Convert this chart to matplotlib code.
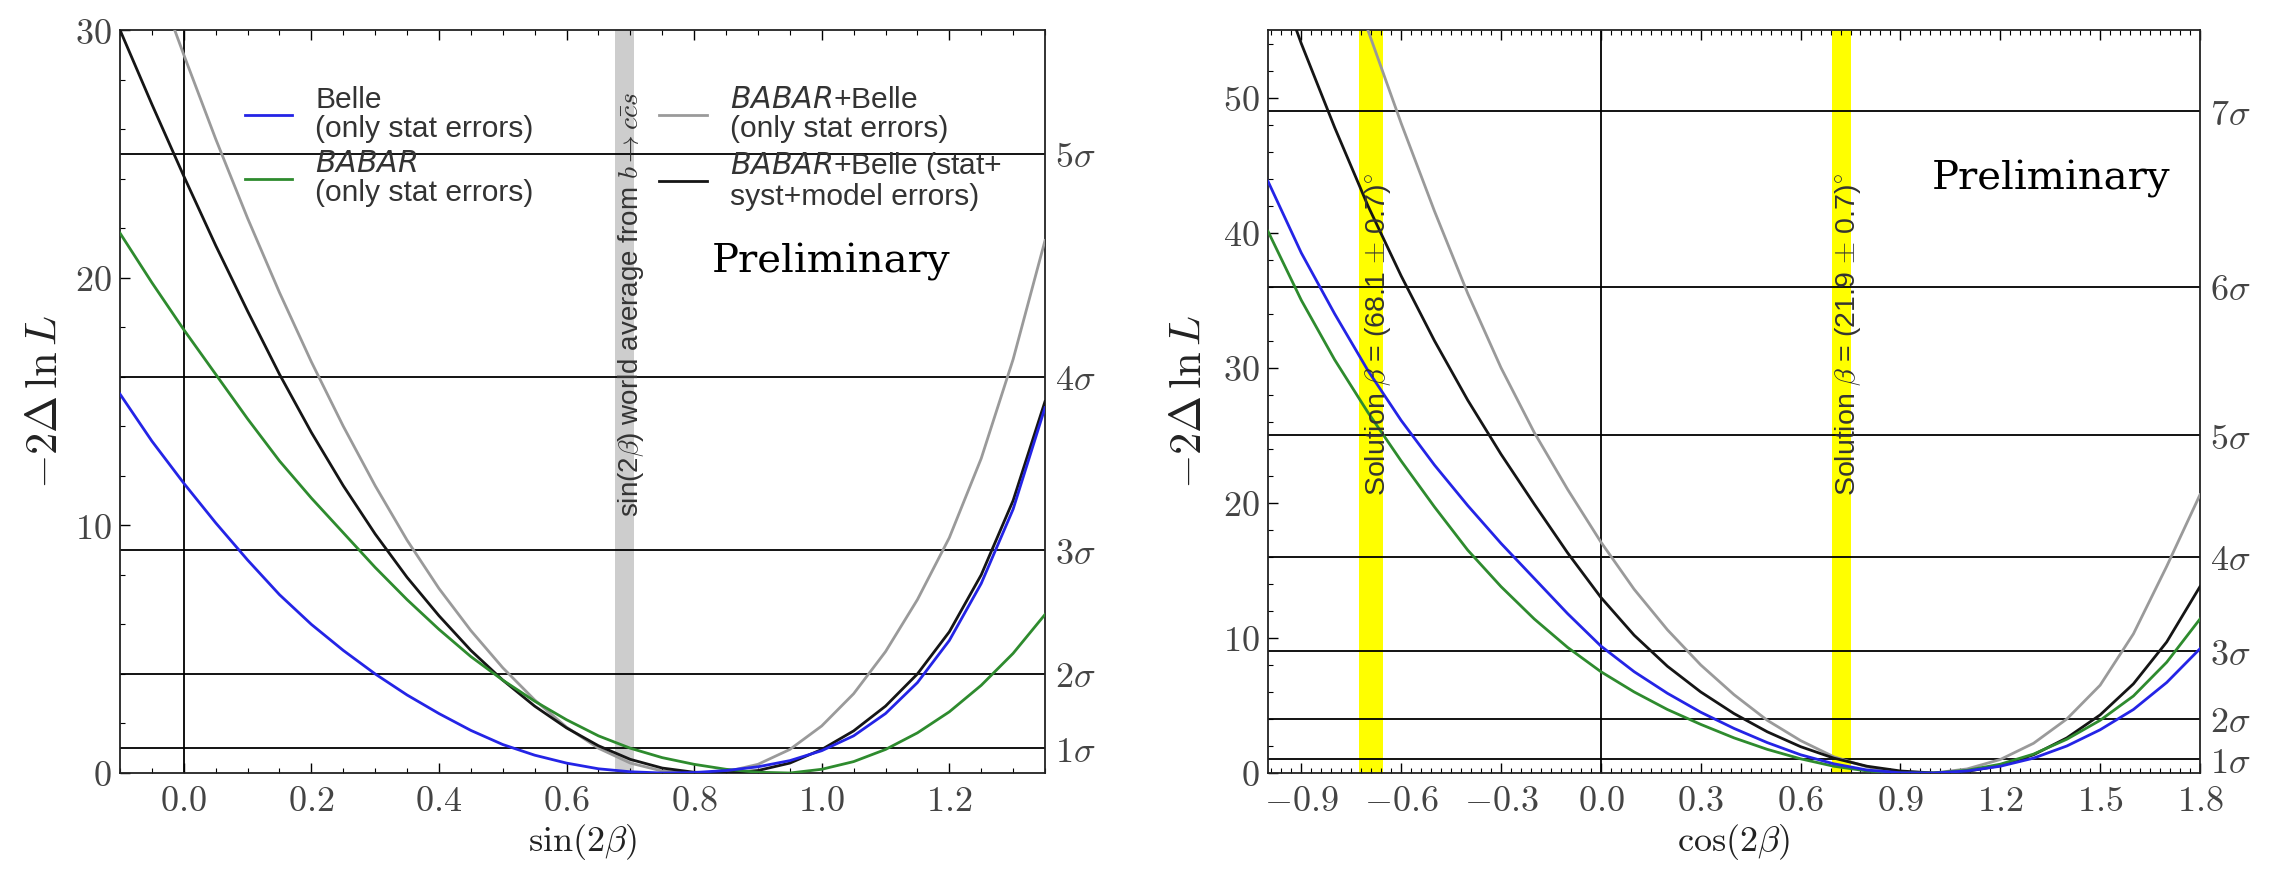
import matplotlib
matplotlib.use('Agg')
import matplotlib.pyplot as plt
from matplotlib.font_manager import FontProperties

plt.rcParams['mathtext.fontset'] = 'cm'
plt.rcParams['font.family'] = ['Liberation Sans', 'DejaVu Sans']

# ---------------- data: left panel, sin(2beta) ----------------
sin_x = [-0.10, -0.05, 0.00, 0.05, 0.10, 0.15, 0.20, 0.25, 0.30, 0.35,
         0.40, 0.45, 0.50, 0.55, 0.60, 0.65, 0.70, 0.75, 0.80, 0.85,
         0.90, 0.95, 1.00, 1.05, 1.10, 1.15, 1.20, 1.25, 1.30, 1.35]
belle_sin = [15.3, 13.4, 11.7, 10.1, 8.6, 7.2, 6.0, 4.95, 4.0, 3.15,
             2.4, 1.72, 1.15, 0.72, 0.4, 0.17, 0.05, 0.0, 0.02, 0.1,
             0.25, 0.5, 0.9, 1.5, 2.4, 3.65, 5.35, 7.65, 10.65, 14.75]
babar_sin = [21.8, 19.8, 17.9, 16.1, 14.3, 12.6, 11.1, 9.7, 8.3, 7.0,
             5.8, 4.7, 3.75, 2.9, 2.15, 1.5, 1.0, 0.62, 0.35, 0.15,
             0.03, 0.0, 0.15, 0.46, 0.95, 1.62, 2.47, 3.54, 4.83, 6.4]
comb_stat_sin = [36.1, 32.5, 29.0, 25.6, 22.4, 19.4, 16.6, 14.0, 11.6, 9.4,
                 7.45, 5.75, 4.25, 2.95, 1.85, 1.0, 0.4, 0.08, 0.0, 0.05,
                 0.35, 0.95, 1.9, 3.2, 4.9, 7.0, 9.5, 12.7, 16.7, 21.5]
comb_full_sin = [30.0, 27.0, 24.1, 21.3, 18.65, 16.1, 13.75, 11.6, 9.65, 7.9,
                 6.35, 4.95, 3.75, 2.7, 1.82, 1.1, 0.55, 0.2, 0.03, 0.0,
                 0.1, 0.4, 0.95, 1.7, 2.7, 4.0, 5.7, 8.0, 11.0, 15.0]
world_avg_sin2b = [0.676, 0.706]          # grey band edges

# ---------------- data: right panel, cos(2beta) ----------------
cos_x = [-1.0, -0.9, -0.8, -0.7, -0.6, -0.5, -0.4, -0.3, -0.2, -0.1,
         0.0, 0.1, 0.2, 0.3, 0.4, 0.5, 0.6, 0.7, 0.8, 0.9,
         1.0, 1.1, 1.2, 1.3, 1.4, 1.5, 1.6, 1.7, 1.8]
belle_cos = [43.8, 38.5, 34.0, 29.8, 26.1, 22.8, 19.8, 17.0, 14.4, 11.8,
             9.4, 7.5, 5.9, 4.5, 3.3, 2.25, 1.35, 0.68, 0.22, 0.02,
             0.0, 0.15, 0.5, 1.1, 2.0, 3.2, 4.7, 6.7, 9.2]
babar_cos = [40.1, 35.0, 30.6, 26.7, 23.1, 19.7, 16.5, 13.8, 11.4, 9.3,
             7.5, 6.0, 4.7, 3.6, 2.6, 1.75, 1.05, 0.5, 0.15, 0.0,
             0.0, 0.2, 0.65, 1.4, 2.5, 3.9, 5.7, 8.2, 11.4]
comb_stat_cos = [78.0, 69.5, 62.0, 55.0, 48.1, 41.6, 35.5, 30.0, 25.2, 21.0,
                 17.1, 13.6, 10.6, 8.0, 5.8, 3.9, 2.4, 1.2, 0.45, 0.05,
                 0.0, 0.3, 1.0, 2.2, 4.0, 6.5, 10.3, 15.3, 20.6]
comb_full_cos = [60.8, 54.0, 47.8, 42.0, 36.8, 32.0, 27.6, 23.6, 19.9, 16.3,
                 13.0, 10.2, 7.9, 6.0, 4.4, 3.05, 1.95, 1.1, 0.5, 0.15,
                 0.0, 0.12, 0.55, 1.35, 2.6, 4.3, 6.6, 9.7, 13.8]
solution_bands = [(-0.727, -0.655), (0.693, 0.753)]
solution_labels = [r'Solution $\beta$ = (68.1 $\pm$ 0.7)$^{\circ}$',
                   r'Solution $\beta$ = (21.9 $\pm$ 0.7)$^{\circ}$']

# ---------------- ticks / labels ----------------
sin_xticks = [0.0, 0.2, 0.4, 0.6, 0.8, 1.0, 1.2]
sin_xticklabels = ['0.0', '0.2', '0.4', '0.6', '0.8', '1.0', '1.2']
sin_yticks = [0, 10, 20, 30]
sin_yticklabels = ['0', '10', '20', '30']
cos_xticks = [-0.9, -0.6, -0.3, 0.0, 0.3, 0.6, 0.9, 1.2, 1.5, 1.8]
cos_xticklabels = ['-0.9', '-0.6', '-0.3', '0.0', '0.3', '0.6', '0.9', '1.2', '1.5', '1.8']
cos_yticks = [0, 10, 20, 30, 40, 50]
cos_yticklabels = ['0', '10', '20', '30', '40', '50']
sigma_levels_sin = [1, 4, 9, 16, 25]
sigma_levels_cos = [1, 4, 9, 16, 25, 36, 49]
sigma_names = ['1', '2', '3', '4', '5', '6', '7']

legend_labels = ['Belle\n(only stat errors)',
                 r'$\mathit{BABAR}$' + '\n(only stat errors)',
                 r'$\mathit{BABAR}$' + '+Belle\n(only stat errors)',
                 r'$\mathit{BABAR}$' + '+Belle (stat+\nsyst+model errors)']

C_BLUE = '#2424e6'
C_GREEN = '#2e8b2e'
C_GRAY = '#9a9a9a'
C_BLACK = '#151515'
TICK_COLOR = '#444444'
TXT = '#333333'

W, H = 2273, 882
fig = plt.figure(figsize=(W / 100, H / 100), dpi=100)
axL = fig.add_axes([120 / W, (H - 773) / H, 925 / W, 743 / H])
axR = fig.add_axes([1268 / W, (H - 773) / H, 932 / W, 743 / H])


def style(ax, xticks, xlabels, yticks, ylabels, xminor, yminor, levels, xlab):
    ax.set_xticks(xticks, [f'${t}$' for t in xlabels])
    ax.set_yticks(yticks, [f'${t}$' for t in ylabels])
    ax.xaxis.set_minor_locator(plt.MultipleLocator(xminor))
    ax.yaxis.set_minor_locator(plt.MultipleLocator(yminor))
    ax.tick_params(which='both', direction='in', top=True, bottom=True,
                   left=True, right=False, labelcolor=TICK_COLOR, labelsize=26)
    ax.tick_params(which='major', length=7, width=1.0)
    ax.tick_params(which='minor', length=3.5, width=0.8)
    ax.tick_params(axis='x', pad=8)
    ax.tick_params(axis='y', pad=6)
    for s in ax.spines.values():
        s.set_linewidth(1.3)
        s.set_color('#222222')
    for lv in levels:
        ax.axhline(lv, color='k', lw=1.3, zorder=2)
    ax.axvline(0.0, color='k', lw=1.3, zorder=2)
    ax.set_xlabel(xlab, fontsize=26, color='#222222')
    ax.xaxis.set_label_coords(0.5, -0.066)
    ax.set_ylabel(r'$-2\Delta\,\ln L$', fontsize=32, color='#222222')
    tw = ax.twinx()
    tw.set_ylim(ax.get_ylim())
    tw.set_yticks(levels, [f'${sigma_names[i]}\\sigma$' for i in range(len(levels))])
    tw.tick_params(length=0, labelsize=26, labelcolor=TICK_COLOR, pad=7)
    for s in tw.spines.values():
        s.set_visible(False)
    return tw


# ---------------- left panel ----------------
axL.set_xlim(-0.1, 1.35)
axL.set_ylim(0, 30)
axL.axvspan(world_avg_sin2b[0], world_avg_sin2b[1], color='#cdcdcd', lw=0, zorder=1)
l_gray, = axL.plot(sin_x, comb_stat_sin, color=C_GRAY, lw=2.0, zorder=3)
l_black, = axL.plot(sin_x, comb_full_sin, color=C_BLACK, lw=2.0, zorder=3)
l_green, = axL.plot(sin_x, babar_sin, color=C_GREEN, lw=2.0, zorder=3)
l_blue, = axL.plot(sin_x, belle_sin, color=C_BLUE, lw=2.0, zorder=3)
style(axL, sin_xticks, sin_xticklabels, sin_yticks, sin_yticklabels, 0.05, 2,
      sigma_levels_sin, r'$\sin(2\beta)$')
axL.yaxis.set_label_coords(-0.058, 0.5)
axL.text(sum(world_avg_sin2b) / 2 + 0.01, 18.9,
         r'sin(2$\beta$) world average from $b\to c\bar{c}s$',
         rotation=90, ha='center', va='center', fontsize=20, color=TXT, zorder=4)
axL.text(1.015, 20.2, 'Preliminary', family='DejaVu Serif', fontsize=29,
         ha='center', va='baseline', color='k', zorder=5)

fp = FontProperties(family='Liberation Sans', size=21.6, math_fontfamily='dejavusans')
leg = axL.legend([l_blue, l_green, l_gray, l_black], legend_labels, ncol=2,
                 loc='upper left', bbox_to_anchor=(0.135, 0.925), frameon=False,
                 prop=fp, handlelength=1.57, handletextpad=0.77, columnspacing=4.2,
                 labelspacing=0.25, borderpad=0, borderaxespad=0)
for t in leg.get_texts():
    t.set_linespacing(1.05)
    t.set_color(TXT)

# ---------------- right panel ----------------
axR.set_xlim(-1.0, 1.8)
axR.set_ylim(0, 55)
for (a, b) in solution_bands:
    axR.axvspan(a, b, color='#ffff00', lw=0, zorder=1)
axR.plot(cos_x, comb_stat_cos, color=C_GRAY, lw=2.0, zorder=3)
axR.plot(cos_x, comb_full_cos, color=C_BLACK, lw=2.0, zorder=3)
axR.plot(cos_x, babar_cos, color=C_GREEN, lw=2.0, zorder=3)
axR.plot(cos_x, belle_cos, color=C_BLUE, lw=2.0, zorder=3)
style(axR, cos_xticks, cos_xticklabels, cos_yticks, cos_yticklabels, 0.03, 2,
      sigma_levels_cos, r'$\cos(2\beta)$')
axR.yaxis.set_label_coords(-0.062, 0.5)
for (a, b), lab in zip(solution_bands, solution_labels):
    axR.text((a + b) / 2 + 0.02, 32.5, lab, rotation=90, ha='center', va='center',
             fontsize=20.5, color=TXT, zorder=4)
axR.text(1.352, 43.2, 'Preliminary', family='DejaVu Serif', fontsize=29,
         ha='center', va='baseline', color='k', zorder=5)

fig.savefig('out.png', dpi=100)
